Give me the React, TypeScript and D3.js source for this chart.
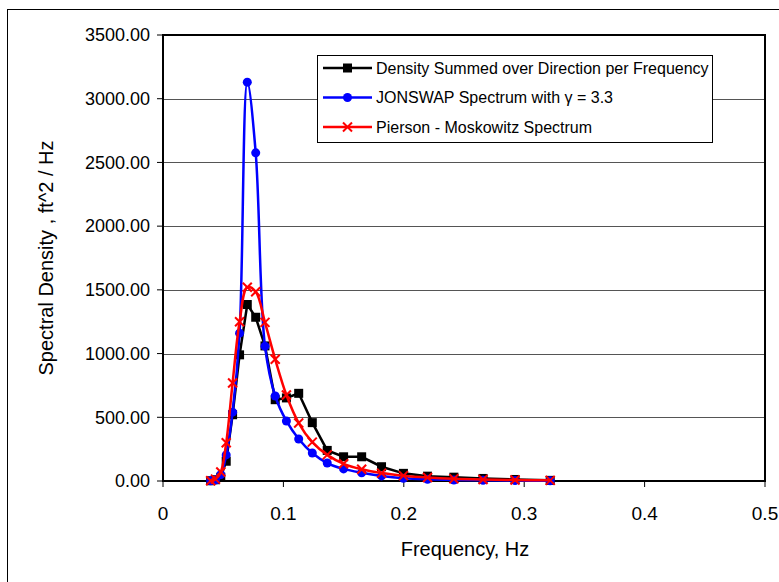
import React from "react";
import * as d3 from "d3";

const frequencies = [0.0396, 0.0436, 0.048, 0.0525, 0.0578, 0.0636, 0.07, 0.077, 0.0847, 0.0932, 0.1025, 0.1127, 0.124, 0.1364, 0.15, 0.165, 0.1815, 0.1997, 0.2197, 0.2416, 0.2658, 0.2924, 0.3216];
const densitySummed = [2, 10, 30, 155, 520, 990, 1385, 1285, 1060, 638, 652, 688, 458, 240, 190, 190, 112, 60, 38, 30, 20, 12, 5];
const jonswap = [1, 8, 50, 205, 540, 1160, 3130, 2575, 1058, 667, 471, 330, 220, 141, 95, 65, 40, 22, 13, 8, 5, 3, 2];
const piersonMoskowitz = [2, 15, 70, 300, 769, 1250, 1520, 1485, 1245, 955, 675, 455, 305, 205, 135, 92, 62, 42, 28, 18, 12, 8, 5];

const xTicks = [0, 0.1, 0.2, 0.3, 0.4, 0.5];
const yTicks = [0, 500, 1000, 1500, 2000, 2500, 3000, 3500];
const seriesNames = [
  "Density Summed over Direction per Frequency",
  "JONSWAP Spectrum with \u03b3 = 3.3",
  "Pierson - Moskowitz Spectrum",
];

const FONT = "'Liberation Sans', Arial, sans-serif";

function Marker({ kind, x, y, color }: { kind: string; x: number; y: number; color: string }) {
  if (kind === "square") return <rect x={x - 4.5} y={y - 4.5} width={9} height={9} fill={color} />;
  if (kind === "circle") return <circle cx={x} cy={y} r={4.5} fill={color} />;
  return (
    <g stroke={color} strokeWidth={2}>
      <line x1={x - 4.5} y1={y - 4.5} x2={x + 4.5} y2={y + 4.5} />
      <line x1={x - 4.5} y1={y + 4.5} x2={x + 4.5} y2={y - 4.5} />
    </g>
  );
}

export default function App() {
  const x = d3.scaleLinear().domain([0, 0.5]).range([163, 765]);
  const y = d3.scaleLinear().domain([0, 3500]).range([481, 35]);

  const series = [
    { values: densitySummed, color: "#000000", kind: "square", curve: d3.curveLinear },
    { values: jonswap, color: "#0000FF", kind: "circle", curve: d3.curveCatmullRom },
    { values: piersonMoskowitz, color: "#FF0000", kind: "x", curve: d3.curveCatmullRom },
  ];

  const [x0, x1] = x.range();
  const [yb, yt] = y.range();

  return (
    <svg width={779} height={582} style={{ position: "absolute", left: 0, top: 0, background: "#fff" }} fontFamily={FONT}>
      <rect x={0} y={0} width={779} height={582} fill="#fff" />
      <rect x={7.5} y={9.5} width={800} height={600} fill="none" stroke="#000" strokeWidth={1} />
      {/* gridlines */}
      {yTicks.slice(1, -1).map((t) => (
        <line key={t} x1={x0} x2={x1} y1={Math.round(y(t)) + 0.5} y2={Math.round(y(t)) + 0.5} stroke="#555" strokeWidth={1} />
      ))}
      {/* plot frame */}
      <rect x={x0} y={yt} width={x1 - x0} height={yb - yt} fill="none" stroke="#000" strokeWidth={2} />
      {/* y ticks */}
      {yTicks.map((t) => (
        <g key={t}>
          <line x1={x0 - 6} x2={x0} y1={y(t)} y2={y(t)} stroke="#000" strokeWidth={1} />
          <text x={150} y={y(t)} dy="0.35em" textAnchor="end" fontSize={18}>
            {t.toFixed(2)}
          </text>
        </g>
      ))}
      {/* x ticks */}
      {xTicks.map((t) => (
        <g key={t}>
          <line x1={x(t)} x2={x(t)} y1={yb} y2={yb + 6} stroke="#000" strokeWidth={1} />
          <text x={x(t)} y={520} textAnchor="middle" fontSize={19}>
            {String(t)}
          </text>
        </g>
      ))}
      <text x={465} y={556} textAnchor="middle" fontSize={20}>
        Frequency, Hz
      </text>
      <text transform={`translate(53,258) rotate(-90)`} textAnchor="middle" fontSize={20}>
        Spectral Density , ft^2 / Hz
      </text>
      {/* series */}
      {series.map((s, i) => {
        const pts = frequencies.map((f, j) => [x(f), y(s.values[j])] as [number, number]);
        const path = d3.line().curve(s.curve)(pts) || "";
        return (
          <g key={i}>
            <path d={path} fill="none" stroke={s.color} strokeWidth={2.5} />
            {pts.map((p, j) => (
              <Marker key={j} kind={s.kind} x={p[0]} y={p[1]} color={s.color} />
            ))}
          </g>
        );
      })}
      {/* legend */}
      <rect x={317.5} y={55.5} width={395} height={87} fill="#fff" stroke="#000" strokeWidth={1} />
      {series.map((s, i) => {
        const ly = 68 + i * 29.5;
        return (
          <g key={i}>
            <line x1={323} x2={372} y1={ly} y2={ly} stroke={s.color} strokeWidth={2.5} />
            <Marker kind={s.kind} x={347.5} y={ly} color={s.color} />
            <text x={376} y={ly} dy="0.35em" fontSize={16}>
              {seriesNames[i]}
            </text>
          </g>
        );
      })}
    </svg>
  );
}
